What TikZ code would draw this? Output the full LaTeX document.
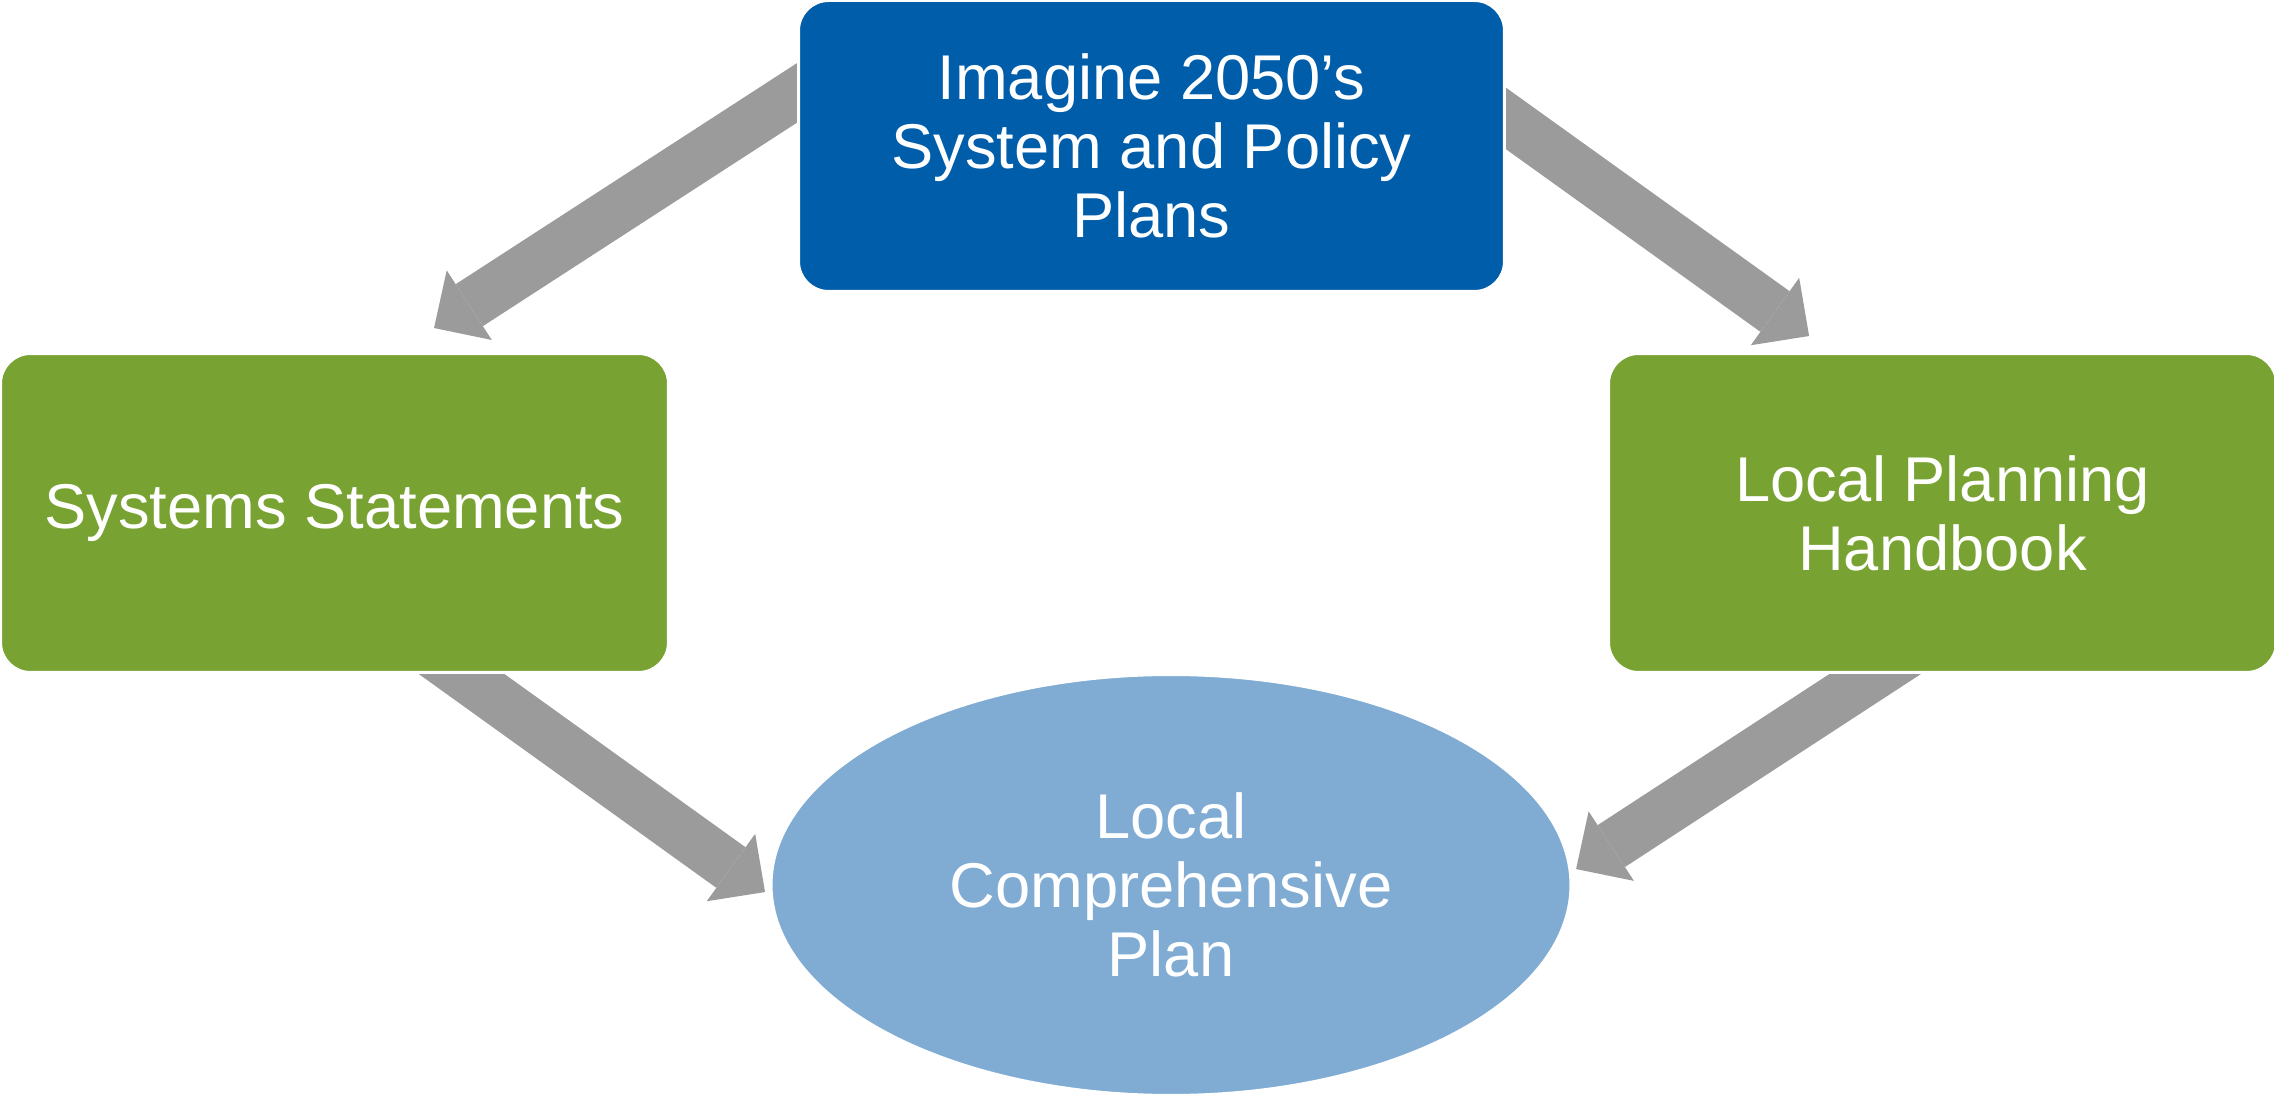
\documentclass[tikz,border=0pt]{standalone}
\usepackage{fontspec}
\setmainfont{Liberation Sans}
\usepackage{xcolor}
\usepackage{tikz}
\usetikzlibrary{arrows.meta,shapes.geometric,backgrounds,calc}

\definecolor{planblue}{HTML}{005DAA}
\definecolor{plangreen}{HTML}{78A232}
\definecolor{lcpblue}{HTML}{80ACD4}
\definecolor{arrowgray}{HTML}{9B9B9B}

\begin{document}
\begin{tikzpicture}[scale=0.1]
\tikzstyle{every node}+=[inner sep=0pt, text=white, align=center, font=\fontsize{18}{19.6}\selectfont]
\tikzstyle{planbox}=[rectangle, rounded corners=3mm, draw=white, line width=0.3mm, minimum width=66.8mm, minimum height=31.9mm]
\tikzstyle{bigarrow}=[arrowgray, line width=5mm, -{Triangle[width=8.3mm,length=4.2mm,line width=0pt]}]
\useasboundingbox (0,0) rectangle (227.4,-109.8);
\node [planbox, fill=planblue, minimum width=70.6mm, minimum height=29.1mm] (imagine) at (115.15,-14.6) {Imagine 2050’s\\System and Policy\\Plans};
\node [planbox, fill=plangreen] (statements) at (33.45,-51.3) {Systems Statements};
\node [planbox, fill=plangreen] (handbook) at (194.25,-51.3) {Local Planning\\Handbook};
\node [ellipse, fill=lcpblue, draw=white, line width=0.3mm, minimum width=80mm, minimum height=42.1mm] (lcp) at (117.1,-88.5) {Local\\Comprehensive\\Plan};
\coordinate (tip1) at (43.4,-32.8);
\coordinate (tip2) at (180.9,-33.6);
\coordinate (tip3) at (76.5,-89.2);
\coordinate (tip4) at (157.6,-86.9);
\begin{scope}[on background layer]
\draw [bigarrow] ($(imagine.center)+(-32.85,7.0)$) -- (tip1);
\draw [bigarrow] ($(imagine.center)+(33.12,4.42)$) -- (tip2);
\draw [bigarrow] ($(statements.center)+(7.98,-12.7)$) -- (tip3);
\draw [bigarrow] ($(handbook.center)+(-1.87,-12.92)$) -- (tip4);
\end{scope}
\end{tikzpicture}
\end{document}
